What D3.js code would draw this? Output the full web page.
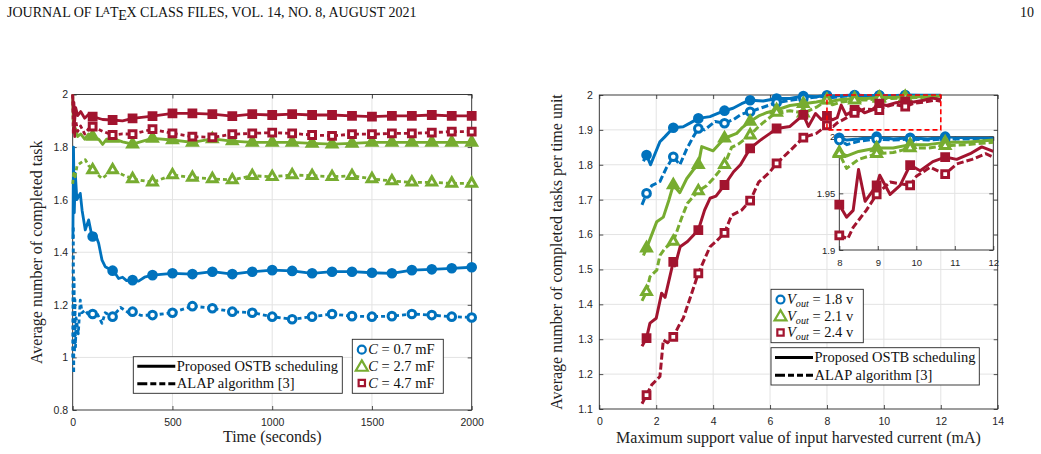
<!DOCTYPE html>
<html>
<head>
<meta charset="utf-8">
<script src="https://cdn.jsdelivr.net/npm/d3@7"></script>
<style>
body{margin:0;background:#fff;}
</style>
</head>
<body>
<div id="container"></div>
<script>
let w = 1041;
let h = 454;

let blue = "#0072BD";
let green = "#77AC30";
let red = "#A2142F";
let axisColor = "#262626";
let gridColor = "#e3e3e3";

// ---------- left chart data (time in seconds) ----------
const leftTimes = [100,200,300,400,500,600,700,800,900,1000,1100,1200,1300,1400,1500,1600,1700,1800,1900,2000];
const leftXTicks = [0,500,1000,1500,2000];
const leftYTicks = [0.8,1,1.2,1.4,1.6,1.8,2];

const blueSolidVals = [1.46,1.33,1.294,1.313,1.32,1.317,1.326,1.317,1.326,1.332,1.329,1.32,1.326,1.326,1.322,1.32,1.332,1.335,1.339,1.343];
const blueDashVals  = [1.165,1.155,1.174,1.161,1.17,1.195,1.187,1.174,1.17,1.155,1.145,1.155,1.165,1.157,1.155,1.157,1.165,1.161,1.155,1.152];
const greenSolidVals = [1.84,1.833,1.811,1.833,1.827,1.818,1.831,1.823,1.818,1.818,1.818,1.814,1.811,1.814,1.818,1.818,1.818,1.818,1.818,1.818];
const greenDashVals  = [1.713,1.713,1.679,1.666,1.694,1.684,1.679,1.675,1.691,1.687,1.694,1.691,1.687,1.691,1.679,1.671,1.666,1.666,1.662,1.662];
const redSolidVals = [1.916,1.903,1.909,1.918,1.928,1.928,1.925,1.918,1.925,1.922,1.925,1.922,1.922,1.919,1.916,1.919,1.919,1.922,1.919,1.919];
const redDashVals  = [1.878,1.846,1.849,1.868,1.852,1.84,1.837,1.849,1.852,1.855,1.852,1.846,1.843,1.849,1.849,1.852,1.852,1.855,1.859,1.859];

// the noisy start of each run
const blueSolidEarly = [[1,1.45],[4,1.8],[8,1.55],[13,1.7],[21,1.6],[38,1.624],[47,1.56],[63,1.485],[80,1.523],[97,1.459],[113,1.47],[130,1.434],[147,1.37],[163,1.345],[213,1.32],[230,1.3],[250,1.305],[270,1.292],[330,1.29],[360,1.305]];
const blueDashEarly = [[0,1.0],[3,1.5],[5,0.94],[7,1.3],[9,1.02],[11,1.22],[14,1.04],[17,1.15],[21,1.13],[28,1.09],[38,1.218],[47,1.17],[63,1.18],[80,1.16],[120,1.17],[147,1.13],[163,1.17],[240,1.19],[280,1.17],[340,1.16]];
const greenSolidEarly = [[0,2.0],[3,1.88],[6,1.95],[10,1.85],[15,1.87],[25,1.84],[40,1.85],[60,1.83],[80,1.85],[130,1.83],[150,1.81],[170,1.83],[250,1.82]];
const greenDashEarly = [[0,1.66],[5,1.7],[12,1.687],[22,1.73],[40,1.74],[63,1.752],[80,1.73],[147,1.68],[250,1.695]];
const redSolidEarly = [[0,2.0],[3,1.93],[6,1.97],[10,1.9],[15,1.95],[25,1.92],[40,1.935],[60,1.91],[80,1.925],[150,1.905],[250,1.9]];
const redDashEarly = [[0,2.0],[3,1.85],[6,1.95],[10,1.84],[15,1.9],[25,1.86],[40,1.88],[60,1.85],[80,1.87],[150,1.86],[250,1.85]];

// ---------- right chart data (current in mA) ----------
const rightXTicks = [0,2,4,6,8,10,12,14];
const rightYTicks = [1.1,1.2,1.3,1.4,1.5,1.6,1.7,1.8,1.9,2];
const insetXTicks = [8,9,10,11,12];
const insetYTicks = [1.9,1.95,2];
const rightMarkX = [1.66,2.6,3.48,4.4,5.3,6.23,7.17,8.0,8.97,9.84,10.75];

const blueSolidR = [[1.55,1.81],[1.66,1.828],[1.8,1.8],[2.13,1.866],[2.3,1.88],[2.6,1.906],[2.95,1.909],[3.2,1.92],[3.48,1.933],[3.89,1.938],[4.1,1.945],[4.4,1.955],[4.7,1.962],[5.0,1.975],[5.3,1.985],[5.76,1.983],[6.23,1.99],[6.7,1.99],[7.17,1.997],[7.63,1.995],[8.0,1.999],[8.2,1.997],[8.5,1.998],[8.97,2.0],[9.4,1.998],[9.84,1.999],[10.3,1.998],[10.75,2.0],[11.3,1.999],[12,1.999]];
const blueDashR = [[1.5,1.685],[1.66,1.718],[1.84,1.74],[2.13,1.752],[2.35,1.79],[2.6,1.823],[2.83,1.8],[3.07,1.845],[3.3,1.88],[3.48,1.904],[3.7,1.9],[4.07,1.924],[4.4,1.919],[4.72,1.93],[5.0,1.945],[5.3,1.952],[5.76,1.965],[6.23,1.978],[6.7,1.985],[7.17,1.99],[7.63,1.994],[8.0,1.997],[8.2,1.993],[8.5,1.996],[8.97,1.998],[9.4,1.997],[9.84,1.998],[10.3,1.997],[10.75,1.998],[11.3,1.998],[12,1.998]];
const greenSolidR = [[1.55,1.54],[1.66,1.561],[2.02,1.637],[2.25,1.65],[2.45,1.7],[2.6,1.742],[2.83,1.72],[3.07,1.76],[3.3,1.785],[3.48,1.8],[3.6,1.852],[4.0,1.84],[4.4,1.876],[4.83,1.89],[5.0,1.905],[5.3,1.924],[5.6,1.94],[5.9,1.95],[6.23,1.957],[6.7,1.97],[7.17,1.975],[7.63,1.98],[8.0,1.986],[8.2,1.983],[8.5,1.987],[8.97,1.99],[9.4,1.99],[9.84,1.993],[10.3,1.993],[10.75,1.995],[11.3,1.995],[12,1.997]];
const greenDashR = [[1.5,1.41],[1.66,1.436],[1.78,1.479],[1.9,1.489],[2.02,1.498],[2.13,1.54],[2.31,1.561],[2.6,1.58],[2.89,1.647],[3.1,1.69],[3.48,1.725],[3.77,1.74],[4.0,1.76],[4.4,1.8],[4.65,1.85],[4.9,1.86],[5.3,1.885],[5.6,1.91],[5.9,1.93],[6.23,1.95],[6.7,1.955],[7.17,1.948],[7.63,1.965],[8.0,1.985],[8.19,1.972],[8.5,1.98],[8.97,1.985],[9.4,1.986],[9.84,1.99],[10.3,1.99],[10.75,1.992],[11.3,1.993],[12,1.995]];
const redSolidR = [[1.5,1.28],[1.66,1.303],[1.78,1.346],[2.0,1.36],[2.19,1.432],[2.31,1.42],[2.6,1.522],[2.66,1.51],[2.84,1.565],[3.1,1.58],[3.48,1.613],[3.7,1.67],[3.89,1.704],[4.1,1.71],[4.4,1.742],[4.72,1.78],[4.96,1.8],[5.3,1.847],[5.65,1.87],[6.0,1.89],[6.23,1.904],[6.7,1.91],[7.17,1.943],[7.35,1.91],[7.6,1.947],[7.8,1.93],[8.0,1.94],[8.19,1.929],[8.36,1.935],[8.5,1.971],[8.67,1.943],[8.97,1.957],[9.05,1.966],[9.32,1.949],[9.58,1.957],[9.84,1.975],[10.1,1.97],[10.43,1.978],[10.75,1.982],[11.05,1.98],[11.4,1.985],[11.7,1.991],[12,1.987]];
const redDashR = [[1.5,1.115],[1.66,1.14],[1.84,1.169],[2.13,1.193],[2.25,1.298],[2.4,1.29],[2.6,1.307],[2.84,1.346],[2.95,1.36],[3.2,1.42],[3.48,1.489],[3.89,1.565],[4.1,1.58],[4.4,1.605],[4.65,1.655],[5.0,1.67],[5.3,1.697],[5.6,1.75],[6.0,1.78],[6.23,1.804],[6.7,1.84],[7.17,1.878],[7.63,1.89],[8.0,1.913],[8.22,1.91],[8.36,1.92],[8.7,1.935],[8.97,1.949],[9.32,1.96],[9.84,1.957],[10.0,1.965],[10.36,1.973],[10.75,1.967],[11.05,1.976],[11.45,1.98],[11.8,1.985],[12,1.982]];

const leftLegend = ["0.7","2.7","4.7"];
const rightLegend = ["1.8","2.1","2.4"];
const styleLegend = ["Proposed OSTB scheduling","ALAP algorithm [3]"];

let serif = "'Liberation Serif','Times New Roman',serif";
let sans = "'Liberation Sans',Arial,sans-serif";

let viz = d3.select("#container").append("svg")
  .attr("width", w)
  .attr("height", h)
  .style("background-color", "white");

// header line of the paper page
let head = viz.append("text")
  .attr("x", 7).attr("y", 16.5)
  .attr("font-family", serif).attr("font-size", 14)
  .attr("fill", "#111");
head.append("tspan").text("JOURNAL OF L");
head.append("tspan").attr("font-size", 10).attr("dx", -1).attr("dy", -3).text("A");
head.append("tspan").attr("dx", 0).attr("dy", 3).text("T");
head.append("tspan").attr("dx", -0.3).attr("dy", 3.5).text("E");
head.append("tspan").attr("dx", -0.3).attr("dy", -3.5).text("X CLASS FILES, VOL. 14, NO. 8, AUGUST 2021");
viz.append("text").attr("x", 1034).attr("y", 16.5).attr("text-anchor", "end")
  .attr("font-family", serif).attr("font-size", 14).attr("fill", "#111").text("10");

// ---------- helpers ----------
function fmt(d){ return String(d); }

function drawFrame(g, x, y, xt, yt, opt){
  let [x0, x1] = x.range();
  let [y0, y1] = y.range();
  // grid
  g.append("g").selectAll("line.gx").data(xt.filter(d => x(d) > x0 + 1 && x(d) < x1 - 1)).enter()
    .append("line").attr("x1", d => x(d)).attr("x2", d => x(d)).attr("y1", y1).attr("y2", y0)
    .attr("stroke", gridColor).attr("stroke-width", 1);
  g.append("g").selectAll("line.gy").data(yt.filter(d => y(d) < y0 - 1 && y(d) > y1 + 1)).enter()
    .append("line").attr("y1", d => y(d)).attr("y2", d => y(d)).attr("x1", x0).attr("x2", x1)
    .attr("stroke", gridColor).attr("stroke-width", 1);

  let bottom = g.append("g").attr("transform", "translate(0," + y0 + ")")
    .call(d3.axisBottom(x).tickValues(xt).tickSize(-4).tickSizeOuter(0).tickPadding(opt.xPad).tickFormat(fmt));
  let top = g.append("g").attr("transform", "translate(0," + y1 + ")")
    .call(d3.axisTop(x).tickValues(xt).tickSize(-4).tickSizeOuter(0).tickFormat(""));
  let left = g.append("g").attr("transform", "translate(" + x0 + ",0)")
    .call(d3.axisLeft(y).tickValues(yt).tickSize(-4).tickSizeOuter(0).tickPadding(opt.yPad).tickFormat(fmt));
  let right = g.append("g").attr("transform", "translate(" + x1 + ",0)")
    .call(d3.axisRight(y).tickValues(yt).tickSize(-4).tickSizeOuter(0).tickFormat(""));
  [bottom, top, left, right].forEach(a => {
    a.select(".domain").remove();
    a.selectAll("line").attr("stroke", axisColor).attr("stroke-width", 0.8);
    a.selectAll("text").attr("font-family", sans).attr("font-size", opt.fontSize).attr("fill", axisColor);
  });
  g.append("rect").attr("x", x0).attr("y", y1).attr("width", x1 - x0).attr("height", y0 - y1)
    .attr("fill", "none").attr("stroke", axisColor).attr("stroke-width", 0.9);
}

let symbolTypes = [d3.symbolCircle, d3.symbolTriangle, d3.symbolSquare];
let symbolSizes = [46, 40, 46];

function drawSeries(g, x, y, pts, marks, color, kind, dashed, width, dash){
  let line = d3.line().x(d => x(d[0])).y(d => y(d[1]));
  g.append("path").datum(pts)
    .attr("d", line)
    .attr("fill", "none")
    .attr("stroke", color)
    .attr("stroke-width", width)
    .attr("stroke-linejoin", "round")
    .attr("stroke-dasharray", dashed ? dash : null);
  g.selectAll(null).data(marks).enter()
    .append("path")
    .attr("transform", d => "translate(" + x(d[0]) + "," + y(d[1]) + ")")
    .attr("d", d3.symbol().type(symbolTypes[kind]).size(symbolSizes[kind]))
    .attr("fill", dashed ? "white" : color)
    .attr("stroke", color)
    .attr("stroke-width", 3)
    .attr("stroke-linejoin", "miter");
}

function buildLeft(early, vals){
  let pts = early.concat(leftTimes.map((t, i) => [t, vals[i]]));
  pts.sort((a, b) => a[0] - b[0]);
  return pts;
}

function mathLabel(sel, sym, sub, value, unit){
  sel.append("tspan").attr("font-style", "italic").text(sym);
  if (sub){
    sel.append("tspan").attr("font-style", "italic").attr("font-size", "70%").attr("dy", 3).text(sub);
    sel.append("tspan").attr("dy", -3).text(" = " + value + " " + unit);
  } else {
    sel.append("tspan").text(" = " + value + " " + unit);
  }
}

function markerLegend(g, box, labels, sym, sub, unit){
  g.append("rect").attr("x", box[0]).attr("y", box[1]).attr("width", box[2]).attr("height", box[3])
    .attr("fill", "white").attr("stroke", axisColor).attr("stroke-width", 0.9);
  let colors = [blue, green, red];
  let rowH = (box[3] - 4) / 3;
  let legendSizes = [50, 62, 40];
  labels.forEach((lab, i) => {
    let cy = box[1] + 2 + rowH * (i + 0.5);
    g.append("path").attr("transform", "translate(" + (box[0] + 9.5) + "," + (cy + (i == 1 ? 1 : 0)) + ")")
      .attr("d", d3.symbol().type(symbolTypes[i]).size(legendSizes[i]))
      .attr("fill", "white").attr("stroke", colors[i]).attr("stroke-width", 2.2);
    let t = g.append("text").attr("x", box[0] + 16).attr("y", cy + 4.8)
      .attr("font-family", serif).attr("font-size", 14.5).attr("fill", "#111");
    mathLabel(t, sym, sub, lab, unit);
  });
}

function styleLegendBox(g, box){
  g.append("rect").attr("x", box[0]).attr("y", box[1]).attr("width", box[2]).attr("height", box[3])
    .attr("fill", "white").attr("stroke", axisColor).attr("stroke-width", 0.9);
  let rowH = (box[3] - 2) / 2;
  styleLegend.forEach((lab, i) => {
    let cy = box[1] + 1 + rowH * (i + 0.5);
    g.append("line").attr("x1", box[0] + 4).attr("x2", box[0] + 42).attr("y1", cy).attr("y2", cy)
      .attr("stroke", "black").attr("stroke-width", 3)
      .attr("stroke-dasharray", i == 1 ? "10,3,6,3,6,3" : null);
    g.append("text").attr("x", box[0] + 43.5).attr("y", cy + 4.8)
      .attr("font-family", serif).attr("font-size", 14.5).attr("fill", "#111").text(lab);
  });
}

// ---------- left chart ----------
let xL = d3.scaleLinear().domain([0, 2000]).range([72.7, 471.7]);
let yL = d3.scaleLinear().domain([0.8, 2]).range([410, 94.5]);
let gL = viz.append("g");
drawFrame(gL, xL, yL, leftXTicks, leftYTicks, {xPad: 9, yPad: 4.5, fontSize: 10.5});

let leftSeries = [
  [blueSolidEarly, blueSolidVals, blue, 0, false],
  [blueDashEarly, blueDashVals, blue, 0, true],
  [greenSolidEarly, greenSolidVals, green, 1, false],
  [greenDashEarly, greenDashVals, green, 1, true],
  [redSolidEarly, redSolidVals, red, 2, false],
  [redDashEarly, redDashVals, red, 2, true]
];
leftSeries.forEach(s => {
  let pts = buildLeft(s[0], s[1]);
  let marks = leftTimes.map((t, i) => [t, s[1][i]]);
  drawSeries(gL, xL, yL, pts, marks, s[2], s[3], s[4], 2.8, "4,3");
});

styleLegendBox(gL, [133.3, 356.7, 209, 36.6]);
markerLegend(gL, [352.3, 339.3, 91, 54], leftLegend, "C", null, "mF");

gL.append("text").attr("x", (72.7 + 471.7) / 2).attr("y", 442)
  .attr("text-anchor", "middle").attr("font-family", serif).attr("font-size", 16).attr("fill", "#222")
  .text("Time (seconds)");
gL.append("text").attr("transform", "translate(42," + (410 + 94.5) / 2 + ") rotate(-90)")
  .attr("text-anchor", "middle").attr("font-family", serif).attr("font-size", 16).attr("fill", "#222")
  .text("Average number of completed task");

// ---------- right chart ----------
let xR = d3.scaleLinear().domain([0, 14]).range([599.3, 997.7]);
let yR = d3.scaleLinear().domain([1.1, 2]).range([409, 95]);
let gR = viz.append("g");
drawFrame(gR, xR, yR, rightXTicks, rightYTicks, {xPad: 9, yPad: 6.5, fontSize: 10.5});

let rightSeries = [
  [blueSolidR, blue, 0, false],
  [blueDashR, blue, 0, true],
  [greenSolidR, green, 1, false],
  [greenDashR, green, 1, true],
  [redSolidR, red, 2, false],
  [redDashR, red, 2, true]
];
rightSeries.forEach(s => {
  let marks = s[0].filter(p => rightMarkX.includes(p[0]));
  drawSeries(gR, xR, yR, s[0], marks, s[1], s[2], s[3], 3, "7,3");
});

// zoom window
gR.append("rect")
  .attr("x", xR(8)).attr("y", yR(2))
  .attr("width", xR(12) - xR(8)).attr("height", yR(1.9) - yR(2))
  .attr("fill", "none").attr("stroke", "#ff0000").attr("stroke-width", 1.6).attr("stroke-dasharray", "5,3");

// inset
let xI = d3.scaleLinear().domain([8, 12]).range([839.3, 993.3]);
let yI = d3.scaleLinear().domain([1.9, 2]).range([250, 136.7]);
let gI = viz.append("g");
gI.append("rect").attr("x", 839.3).attr("y", 136.7).attr("width", 154).attr("height", 113.3).attr("fill", "white");
viz.append("clipPath").attr("id", "insetClip")
  .append("rect").attr("x", 839.3).attr("y", 136.7).attr("width", 154).attr("height", 113.3);
drawFrame(gI, xI, yI, insetXTicks, insetYTicks, {xPad: 9, yPad: 4, fontSize: 9.5});
let gIL = gI.append("g").attr("clip-path", "url(#insetClip)");
rightSeries.forEach(s => {
  let pts = s[0].filter(p => p[0] >= 7.6);
  drawSeries(gIL, xI, yI, pts, [], s[1], s[2], s[3], 3, "7,3");
});
rightSeries.forEach(s => {
  let marks = s[0].filter(p => rightMarkX.includes(p[0]) && p[0] >= 8);
  drawSeries(gI, xI, yI, [], marks, s[1], s[2], s[3], 0, "7,3");
});

markerLegend(gR, [771, 289.3, 92.3, 53.4], rightLegend, "V", "out", "v");
styleLegendBox(gR, [771, 347.7, 208.3, 37.3]);

gR.append("text").attr("x", (599.3 + 997.7) / 2).attr("y", 443)
  .attr("text-anchor", "middle").attr("font-family", serif).attr("font-size", 16).attr("fill", "#222")
  .text("Maximum support value of input harvested current (mA)");
gR.append("text").attr("transform", "translate(562," + (409 + 95) / 2 + ") rotate(-90)")
  .attr("text-anchor", "middle").attr("font-family", serif).attr("font-size", 16).attr("fill", "#222")
  .text("Average number of completed tasks per time unit");
</script>
</body>
</html>
